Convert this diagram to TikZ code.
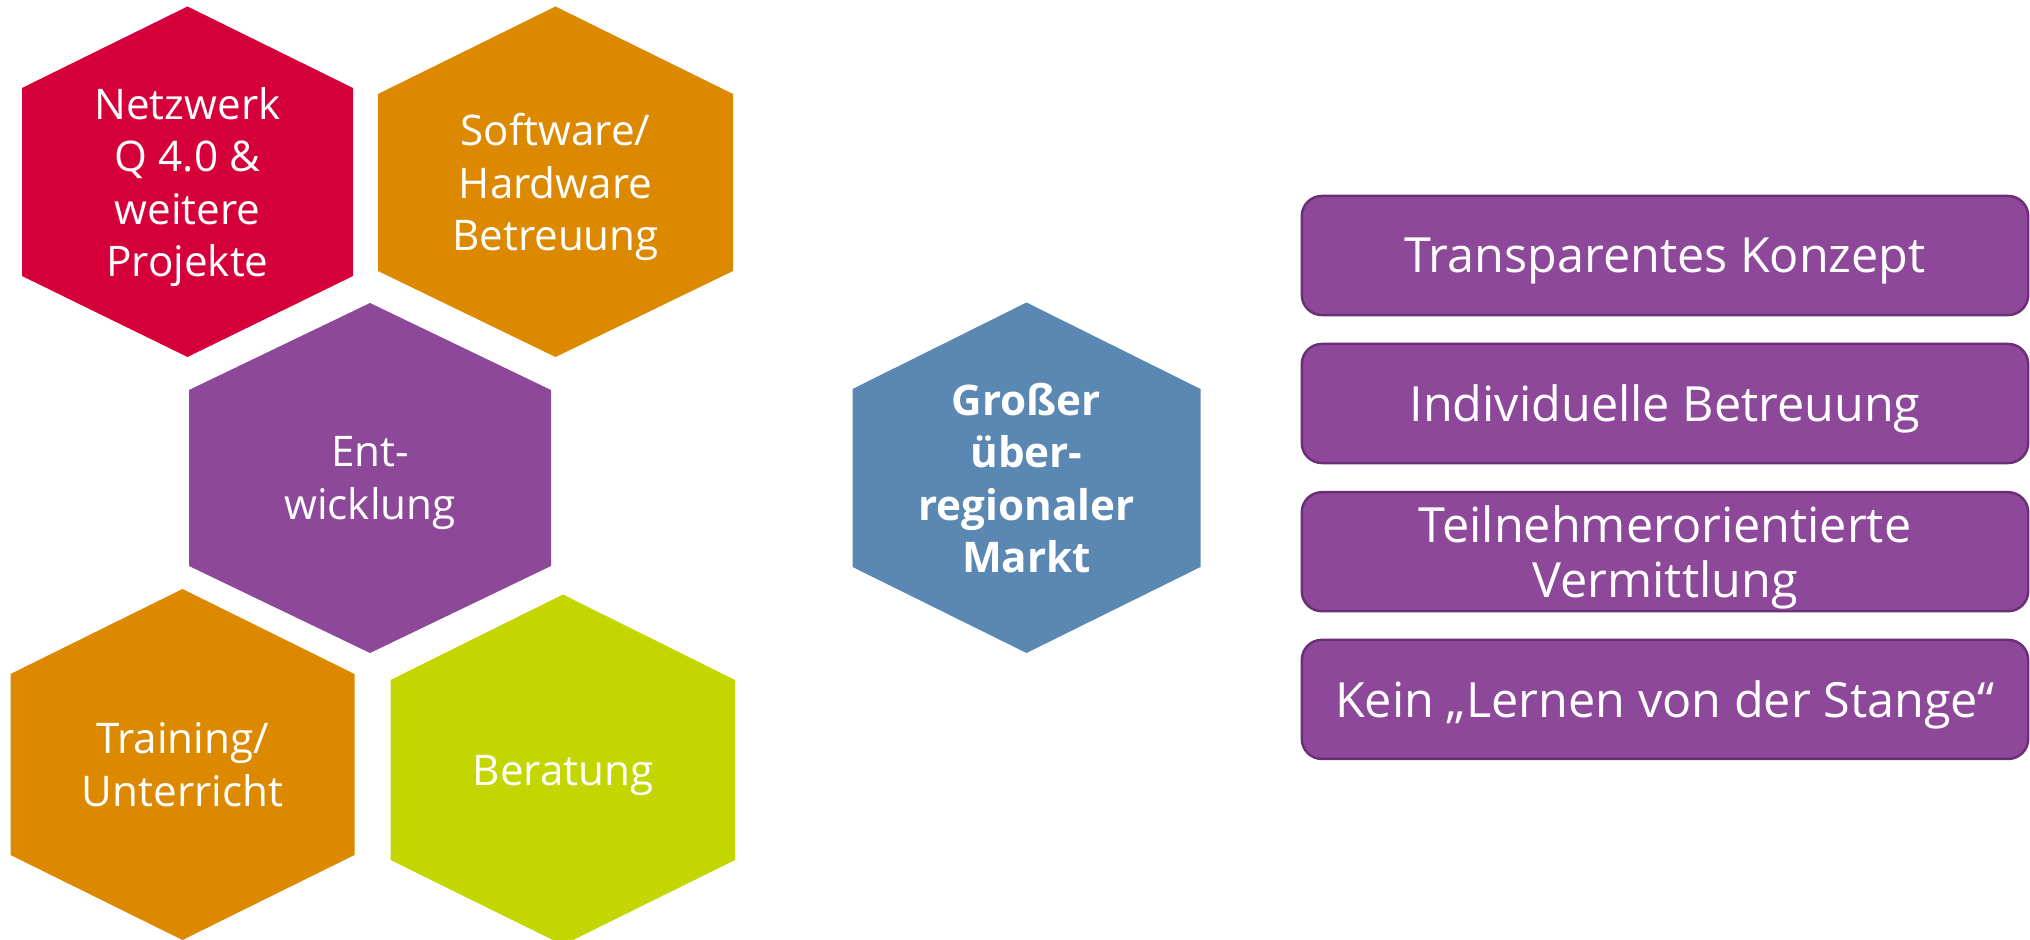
\documentclass[tikz,border=0pt]{standalone}
\usepackage{fontspec}
\setmainfont{Open Sans}
\definecolor{qred}{HTML}{D5003A}
\definecolor{qorange}{HTML}{DD8900}
\definecolor{qpurple}{HTML}{8E4899}
\definecolor{qgreen}{HTML}{C4D600}
\definecolor{qblue}{HTML}{5B88B2}
\definecolor{qborder}{HTML}{6A2F74}
\begin{document}
\begin{tikzpicture}[x=0.01cm, y=-0.01cm,
		hl/.style={text=white, align=center, text depth=0pt, font=\fontsize{12}{14.9}\selectfont},
		tb/.style={rectangle, rounded corners=5.7pt, draw=qborder, line width=0.7pt, fill=qpurple, text=white, align=center, minimum width=7.26cm, minimum height=1.19cm, text depth=0pt, font=\fontsize{13.8}{15.8}\selectfont}]
			\useasboundingbox (0,0) rectangle (2030,940);

			\fill[qred] (22,88) -- (187.5,6.5) -- (353,88) -- (353,276) -- (187.5,357) -- (22,276) -- cycle;
			\node[hl] (netz) at (187.5,182) {Netzwerk\\Q 4.0 \&\\weitere\\Projekte};

			\fill[qorange] (378,94) -- (555.5,6.5) -- (733,94) -- (733,271) -- (555.5,357) -- (378,271) -- cycle;
			\node[hl] (soft) at (555.5,182) {Software/\\Hardware\\Betreuung};

			\fill[qpurple] (189,390) -- (370,303) -- (551,390) -- (551,566) -- (370,653) -- (189,566) -- cycle;
			\node[hl] (entw) at (370,478) {Ent-\\wicklung};

			\fill[qorange] (10.5,674) -- (182.5,589) -- (354.5,674) -- (354.5,855) -- (182.5,940) -- (10.5,855) -- cycle;
			\node[hl] (train) at (182.5,764.5) {Training/\\Unterricht};

			\fill[qgreen] (390.5,680) -- (563,594.5) -- (735,680) -- (735,860) -- (563,945) -- (390.5,860) -- cycle;
			\node[hl] (berat) at (563,770) {Beratung};

			\fill[qblue] (852.5,389) -- (1026.5,302.5) -- (1200.5,389) -- (1200.5,567) -- (1026.5,653) -- (852.5,567) -- cycle;
			\node[hl, font=\bfseries\fontsize{12}{14.9}\selectfont] (markt) at (1026.5,478) {Großer\\über-\\regionaler\\Markt};

			\node[tb] (konzept) at (1665,255.5) {Transparentes Konzept};
			\node[tb] (betreu) at (1665,403.5) {Individuelle Betreuung};
			\node[tb] (vermit) at (1665,551.7) {Teilnehmerorientierte\\Vermittlung};
			\node[tb] (stange) at (1665,699.4) {Kein „Lernen von der Stange“};
		\end{tikzpicture}
\end{document}
